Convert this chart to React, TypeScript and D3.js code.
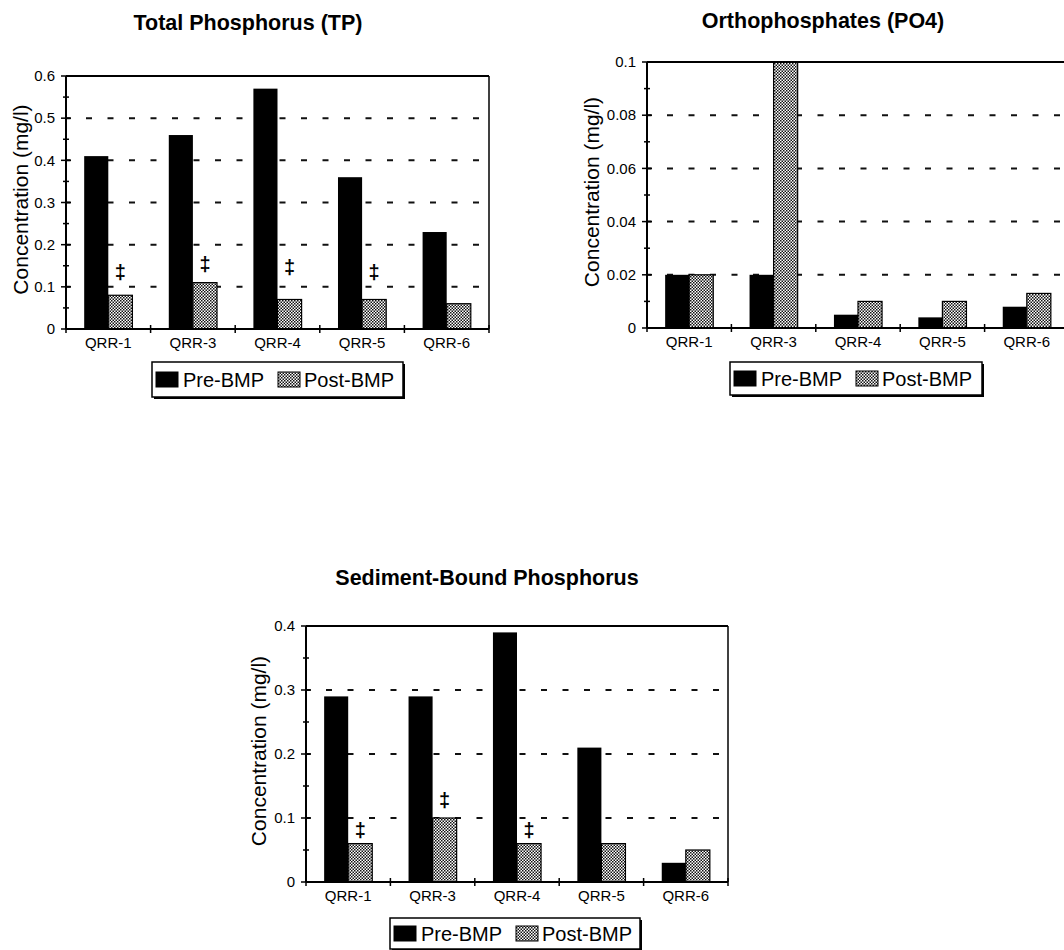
import { useEffect, useRef } from "react";
import * as d3 from "d3";

const sites = ["QRR-1", "QRR-3", "QRR-4", "QRR-5", "QRR-6"];
const seriesNames = ["Pre-BMP", "Post-BMP"];

// Total Phosphorus (TP)
const tpPre = [0.41, 0.46, 0.57, 0.36, 0.23];
const tpPost = [0.08, 0.11, 0.07, 0.07, 0.06];
const tpMarks = [0.135, 0.155, 0.147, 0.135, null];
const tpTicks = [0, 0.1, 0.2, 0.3, 0.4, 0.5, 0.6];

// Orthophosphates (PO4)
const po4Pre = [0.02, 0.02, 0.005, 0.004, 0.008];
const po4Post = [0.02, 0.1, 0.01, 0.01, 0.013];
const po4Marks = [null, null, null, null, null];
const po4Ticks = [0, 0.02, 0.04, 0.06, 0.08, 0.1];

// Sediment-Bound Phosphorus
const sbpPre = [0.29, 0.29, 0.39, 0.21, 0.03];
const sbpPost = [0.06, 0.1, 0.06, 0.06, 0.05];
const sbpMarks = [0.081, 0.128, 0.081, null, null];
const sbpTicks = [0, 0.1, 0.2, 0.3, 0.4];

const FONT = "'Liberation Sans', Arial, Helvetica, sans-serif";

const panels = [
  {
    title: "Total Phosphorus (TP)",
    pre: tpPre, post: tpPost, marks: tpMarks, ticks: tpTicks,
    left: 66, top: 76, width: 423, height: 253,
    titleX: 248, titleY: 30, labelX: 21,
    legend: { x: 152, y: 362, w: 251, h: 35 },
  },
  {
    title: "Orthophosphates (PO4)",
    pre: po4Pre, post: po4Post, marks: po4Marks, ticks: po4Ticks,
    left: 647, top: 62, width: 422, height: 266,
    titleX: 823, titleY: 28, labelX: 592,
    legend: { x: 730, y: 362, w: 252, h: 33 },
  },
  {
    title: "Sediment-Bound Phosphorus",
    pre: sbpPre, post: sbpPost, marks: sbpMarks, ticks: sbpTicks,
    left: 306, top: 626, width: 422, height: 256,
    titleX: 487, titleY: 585, labelX: 259,
    legend: { x: 390, y: 918, w: 250, h: 31 },
  },
];

const App = () => {
  const svgRef = useRef(null);

  useEffect(() => {
    const svg = d3.select(svgRef.current);
    svg.selectAll("*").remove();

    // fine checker fill for the post-BMP bars
    const pat = svg
      .append("defs")
      .append("pattern")
      .attr("id", "dots")
      .attr("patternUnits", "userSpaceOnUse")
      .attr("width", 3)
      .attr("height", 3);
    pat.append("rect").attr("width", 3).attr("height", 3).attr("fill", "#fff");
    pat.append("rect").attr("width", 1.5).attr("height", 1.5).attr("fill", "#111");
    pat.append("rect").attr("x", 1.5).attr("y", 1.5).attr("width", 1.5).attr("height", 1.5).attr("fill", "#111");

    panels.forEach((p) => {
      const g = svg.append("g").attr("font-family", FONT);
      const bottom = p.top + p.height;
      const right = p.left + p.width;

      const x = d3.scaleBand().domain(sites).range([p.left, right]);
      const groupW = x.bandwidth() * 0.57;
      const inner = d3
        .scaleBand()
        .domain(seriesNames)
        .range([(x.bandwidth() - groupW) / 2, (x.bandwidth() + groupW) / 2]);
      const y = d3
        .scaleLinear()
        .domain([0, p.ticks[p.ticks.length - 1]])
        .range([bottom, p.top]);

      // dashed gridlines
      g.selectAll(".grid")
        .data(p.ticks.slice(1, -1))
        .enter()
        .append("line")
        .attr("x1", p.left)
        .attr("x2", right)
        .attr("y1", (d) => y(d))
        .attr("y2", (d) => y(d))
        .attr("stroke", "#111")
        .attr("stroke-width", 2)
        .attr("stroke-dasharray", "6,15.5")
        .attr("stroke-dashoffset", 1.5);

      // bars
      const rows = sites.map((s, i) => ({ s, pre: p.pre[i], post: p.post[i], mark: p.marks[i] }));
      g.selectAll(".pre")
        .data(rows)
        .enter()
        .append("rect")
        .attr("x", (d) => x(d.s) + inner("Pre-BMP"))
        .attr("y", (d) => y(d.pre))
        .attr("width", inner.bandwidth())
        .attr("height", (d) => y(0) - y(d.pre))
        .attr("fill", "#000");
      g.selectAll(".post")
        .data(rows)
        .enter()
        .append("rect")
        .attr("x", (d) => x(d.s) + inner("Post-BMP"))
        .attr("y", (d) => y(d.post))
        .attr("width", inner.bandwidth())
        .attr("height", (d) => y(0) - y(d.post))
        .attr("fill", "url(#dots)")
        .attr("stroke", "#000")
        .attr("stroke-width", 1.2);

      // significance marks
      g.selectAll(".mark")
        .data(rows.filter((d) => d.mark != null))
        .enter()
        .append("text")
        .attr("x", (d) => x(d.s) + inner("Post-BMP") + inner.bandwidth() / 2)
        .attr("y", (d) => y(d.mark))
        .attr("dy", "0.35em")
        .attr("text-anchor", "middle")
        .attr("font-size", 20)
        .attr("font-weight", "bold")
        .text("\u2021");

      // frame
      g.append("line").attr("x1", p.left).attr("x2", right).attr("y1", p.top).attr("y2", p.top)
        .attr("stroke", "#000").attr("stroke-width", 2);
      g.append("line").attr("x1", right).attr("x2", right).attr("y1", p.top).attr("y2", bottom)
        .attr("stroke", "#000").attr("stroke-width", 1.5);
      g.append("line").attr("x1", p.left).attr("x2", p.left).attr("y1", p.top).attr("y2", bottom)
        .attr("stroke", "#000").attr("stroke-width", 2);
      g.append("line").attr("x1", p.left).attr("x2", right).attr("y1", bottom).attr("y2", bottom)
        .attr("stroke", "#000").attr("stroke-width", 2);

      // y ticks, major and minor
      const minor = d3.pairs(p.ticks).map(([a, b]) => (a + b) / 2);
      g.selectAll(".ymaj")
        .data(p.ticks)
        .enter()
        .append("line")
        .attr("x1", p.left - 5)
        .attr("x2", p.left + 5)
        .attr("y1", (d) => y(d))
        .attr("y2", (d) => y(d))
        .attr("stroke", "#000")
        .attr("stroke-width", 1.5);
      g.selectAll(".ymin")
        .data(minor)
        .enter()
        .append("line")
        .attr("x1", p.left - 3)
        .attr("x2", p.left + 3)
        .attr("y1", (d) => y(d))
        .attr("y2", (d) => y(d))
        .attr("stroke", "#000")
        .attr("stroke-width", 1.5);
      g.selectAll(".ylab")
        .data(p.ticks)
        .enter()
        .append("text")
        .attr("x", p.left - 11)
        .attr("y", (d) => y(d))
        .attr("dy", "0.35em")
        .attr("text-anchor", "end")
        .attr("font-size", 15)
        .text((d) => String(d));

      // x ticks at band edges
      g.selectAll(".xtick")
        .data(sites.map((s) => x(s)).concat([right]))
        .enter()
        .append("line")
        .attr("x1", (d) => d)
        .attr("x2", (d) => d)
        .attr("y1", bottom - 4)
        .attr("y2", bottom + 4)
        .attr("stroke", "#000")
        .attr("stroke-width", 1.5);
      g.selectAll(".xlab")
        .data(sites)
        .enter()
        .append("text")
        .attr("x", (d) => x(d) + x.bandwidth() / 2)
        .attr("y", bottom + 19)
        .attr("text-anchor", "middle")
        .attr("font-size", 15)
        .text((d) => d);

      // title and axis label
      g.append("text")
        .attr("x", p.titleX)
        .attr("y", p.titleY)
        .attr("text-anchor", "middle")
        .attr("font-size", 21.5)
        .attr("font-weight", "bold")
        .text(p.title);
      g.append("text")
        .attr("transform", `translate(${p.labelX},${p.top + p.height / 2 - 3}) rotate(-90)`)
        .attr("dy", "0.35em")
        .attr("text-anchor", "middle")
        .attr("font-size", 21)
        .text("Concentration (mg/l)");

      // legend with drop shadow
      const L = p.legend;
      const lg = g.append("g").attr("transform", `translate(${L.x},${L.y})`);
      lg.append("rect").attr("x", 2).attr("y", 2).attr("width", L.w).attr("height", L.h).attr("fill", "#000");
      lg.append("rect").attr("width", L.w).attr("height", L.h).attr("fill", "#fff")
        .attr("stroke", "#000").attr("stroke-width", 1.5);
      const items = [
        { name: seriesNames[0], fill: "#000", sx: 4, tx: 31 },
        { name: seriesNames[1], fill: "url(#dots)", sx: 126, tx: 152 },
      ];
      items.forEach((it) => {
        lg.append("rect")
          .attr("x", it.sx)
          .attr("y", L.h / 2 - 7.5)
          .attr("width", 22)
          .attr("height", 15)
          .attr("fill", it.fill)
          .attr("stroke", "#000")
          .attr("stroke-width", 1);
        lg.append("text")
          .attr("x", it.tx)
          .attr("y", L.h / 2)
          .attr("dy", "0.36em")
          .attr("font-size", 20)
          .text(it.name);
      });
    });
  }, []);

  return (
    <svg
      ref={svgRef}
      width={1064}
      height={950}
      style={{ position: "absolute", left: 0, top: 0, background: "#fff" }}
    ></svg>
  );
};

export default App;
